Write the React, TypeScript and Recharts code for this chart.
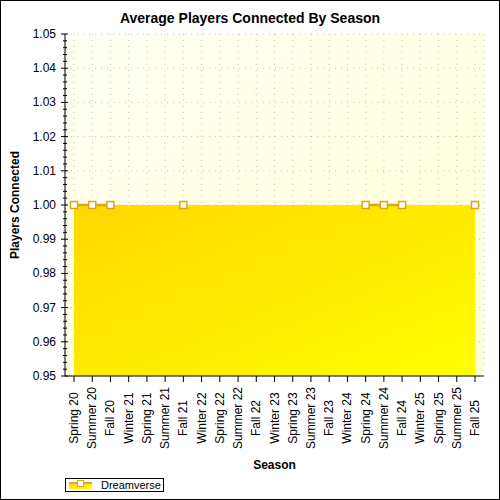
import { ComposedChart, Area, Line, XAxis, YAxis, CartesianGrid } from 'recharts';

const seasons = [
  'Spring 20', 'Summer 20', 'Fall 20', 'Winter 21', 'Spring 21', 'Summer 21',
  'Fall 21', 'Winter 22', 'Spring 22', 'Summer 22', 'Fall 22', 'Winter 23',
  'Spring 23', 'Summer 23', 'Fall 23', 'Winter 24', 'Spring 24', 'Summer 24',
  'Fall 24', 'Winter 25', 'Spring 25', 'Summer 25', 'Fall 25',
];

const players: (number | null)[] = [
  1, 1, 1, null, null, null,
  1, null, null, null, null, null,
  null, null, null, null, 1, 1,
  1, null, null, null, 1,
];

const yMajorTicks = [0.95, 0.96, 0.97, 0.98, 0.99, 1.0, 1.01, 1.02, 1.03, 1.04, 1.05];
const yMinorPerMajor = 5;

const yTicks = yMajorTicks.flatMap((t, i) => {
  if (i === yMajorTicks.length - 1) return [t];
  const step = (yMajorTicks[i + 1] - t) / yMinorPerMajor;
  return Array.from({ length: yMinorPerMajor }, (_, k) => +(t + k * step).toFixed(4));
});

const data = seasons.map((season, i) => ({ season, players: players[i] }));

const FONT = '"Liberation Sans", Arial, sans-serif';
const GOLD = '#DAA520';

const isMajor = (v: number) => yMajorTicks.some((t) => Math.abs(t - v) < 1e-6);

const LeftTick = ({ x, y, payload }: any) => {
  const major = isMajor(payload.value);
  return (
    <g>
      <line x1={x - (major ? 4 : 2)} x2={x + (major ? 3 : 2)} y1={y} y2={y} stroke="#000" />
      {major && (
        <text x={x - 9} y={y} dy={4} textAnchor="end" fontSize={12} fontFamily={FONT} fill="#000">
          {payload.value.toFixed(2)}
        </text>
      )}
    </g>
  );
};

const RightTick = ({ x, y, payload }: any) => {
  const major = isMajor(payload.value);
  return <line x1={x - (major ? 4 : 2)} x2={x} y1={y} y2={y} stroke="#000" />;
};

const BottomTick = ({ x, y, payload }: any) => (
  <g>
    <line x1={x} x2={x} y1={y} y2={y + 6} stroke="#000" />
    <text
      transform={`translate(${x},${y + 42}) rotate(-90)`}
      textAnchor="middle"
      dy={4}
      fontSize={12}
      fontFamily={FONT}
      fill="#000"
    >
      {payload.value}
    </text>
  </g>
);

const TopTick = ({ x, y }: any) => <line x1={x} x2={x} y1={y} y2={y + 4} stroke="#000" />;

const SquareDot = ({ cx, cy, payload, index }: any) => {
  if (cy == null || payload.players == null) return <g key={index} />;
  return (
    <rect key={index} x={cx - 3.5} y={cy - 3.5} width={7} height={7} fill="#fff" stroke={GOLD} strokeWidth={1.5} />
  );
};

export default function App() {
  return (
    <div
      style={{
        position: 'absolute',
        left: 0,
        top: 0,
        width: 500,
        height: 500,
        boxSizing: 'border-box',
        border: '1px solid #000',
        background: '#fff',
        fontFamily: FONT,
      }}
    >
      <div
        style={{
          position: 'absolute',
          left: 0,
          top: 9,
          width: 498,
          textAlign: 'center',
          fontSize: 14,
          fontWeight: 'bold',
          color: '#000',
        }}
      >
        Average Players Connected By Season
      </div>
      <div style={{ position: 'absolute', left: -1, top: -1 }}>
        <ComposedChart width={500} height={500} data={data} margin={{ top: 34, right: 16, bottom: 0, left: 0 }}>
          <defs>
            <linearGradient id="plotBg" x1="0" y1="0" x2="1" y2="1">
              <stop offset="0%" stopColor="#FFFFF2" />
              <stop offset="100%" stopColor="#FFFFD6" />
            </linearGradient>
            <linearGradient id="areaFill" x1="0" y1="0" x2="1" y2="1">
              <stop offset="0%" stopColor="#FFD700" />
              <stop offset="100%" stopColor="#FFFF00" />
            </linearGradient>
          </defs>
          <CartesianGrid
            fill="url(#plotBg)"
            fillOpacity={1}
            stroke="#c4c4c4"
            strokeDasharray="1 5"
            horizontalValues={yMajorTicks}
          />
          <XAxis
            dataKey="season"
            interval={0}
            height={124}
            padding={{ left: 9, right: 9 }}
            tickLine={false}
            tickSize={0}
            tickMargin={0}
            tick={<BottomTick />}
            axisLine={{ stroke: '#000' }}
            label={{ value: 'Season', position: 'insideBottom', offset: 31, fontSize: 12, fontWeight: 'bold', fill: '#000', fontFamily: FONT }}
          />
          <XAxis
            xAxisId="top"
            orientation="top"
            dataKey="season"
            interval={0}
            height={0}
            padding={{ left: 9, right: 9 }}
            tickLine={false}
            tickSize={0}
            tickMargin={0}
            tick={<TopTick />}
            axisLine={{ stroke: '#000' }}
          />
          <YAxis
            domain={[0.95, 1.05]}
            ticks={yTicks}
            interval={0}
            width={65}
            tickLine={false}
            tickSize={0}
            tickMargin={0}
            tick={<LeftTick />}
            axisLine={{ stroke: '#000' }}
            label={{
              content: () => (
                <text
                  transform="translate(19,205) rotate(-90)"
                  textAnchor="middle"
                  fontSize={12}
                  fontWeight="bold"
                  fontFamily={FONT}
                  fill="#000"
                >
                  Players Connected
                </text>
              ),
            }}
          />
          <YAxis
            yAxisId="right"
            orientation="right"
            domain={[0.95, 1.05]}
            ticks={yTicks}
            interval={0}
            width={0}
            tickLine={false}
            tickSize={0}
            tickMargin={0}
            tick={<RightTick />}
            axisLine={{ stroke: '#000' }}
          />
          <Area
            type="linear"
            dataKey="players"
            connectNulls
            stroke="none"
            fill="url(#areaFill)"
            fillOpacity={1}
            dot={false}
            activeDot={false}
            isAnimationActive={false}
          />
          <Line
            type="linear"
            dataKey="players"
            stroke={GOLD}
            strokeWidth={2.5}
            dot={<SquareDot />}
            activeDot={false}
            isAnimationActive={false}
          />
        </ComposedChart>
      </div>
      <div
        style={{
          position: 'absolute',
          left: 64,
          top: 477,
          width: 97,
          height: 12,
          border: '1px solid #000',
          background: '#fff',
          fontSize: 11,
          lineHeight: '12px',
          color: '#000',
        }}
      >
        <svg width={26} height={12} style={{ position: 'absolute', left: 2, top: 0 }}>
          <defs>
            <linearGradient id="legendFill" x1="0" y1="0" x2="1" y2="1">
              <stop offset="0%" stopColor="#FFD700" />
              <stop offset="100%" stopColor="#FFFF00" />
            </linearGradient>
          </defs>
          <rect x={1} y={3} width={23} height={7} fill="url(#legendFill)" />
          <line x1={1} x2={24} y1={4} y2={4} stroke={GOLD} strokeWidth={2} />
          <rect x={9.5} y={1.5} width={6} height={6} fill="#fff" stroke={GOLD} strokeWidth={1} />
        </svg>
        <span style={{ position: 'absolute', left: 35, top: 0 }}>Dreamverse</span>
      </div>
    </div>
  );
}
